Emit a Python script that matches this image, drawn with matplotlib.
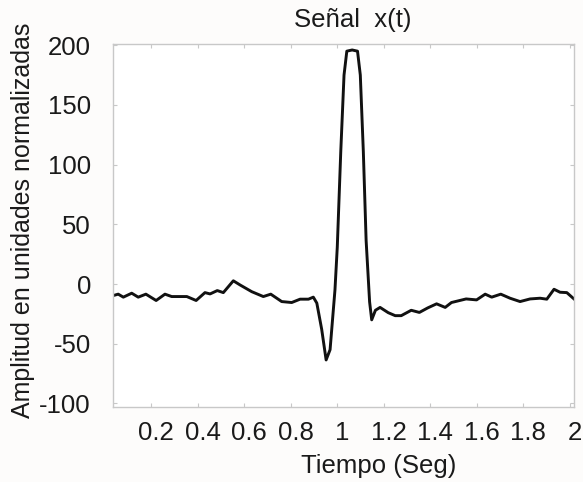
import matplotlib.pyplot as plt
import matplotlib.transforms as mtransforms
import numpy as np

# Señal x(t)
t = [0.037, 0.059, 0.081, 0.117, 0.145, 0.178, 0.222, 0.26, 0.289, 0.354,
     0.394, 0.432, 0.454, 0.485, 0.511, 0.554, 0.583, 0.633, 0.683, 0.715,
     0.762, 0.805, 0.841, 0.877, 0.898, 0.913, 0.934, 0.953, 0.97, 0.991,
     1.001, 1.016, 1.030, 1.042, 1.065, 1.088, 1.100, 1.113, 1.125, 1.140,
     1.149, 1.165, 1.185, 1.22, 1.25, 1.276, 1.319, 1.354, 1.39, 1.428,
     1.465, 1.492, 1.555, 1.6, 1.637, 1.665, 1.704, 1.744, 1.787, 1.83,
     1.873, 1.902, 1.933, 1.959, 1.988, 2.02]
x = [-9.7, -8.5, -11, -7.7, -11, -8.5, -13.8, -8.5, -10.5, -10.5,
     -13.8, -7.2, -8.3, -5.5, -7.2, 2.7, -0.8, -6.4, -10.5, -8.5,
     -14.7, -15.5, -12.7, -12.7, -11, -16, -38, -63.6, -55, -5,
     31, 111, 175, 195, 196, 195, 175, 111, 36.5, -15,
     -30, -22, -19.6, -24, -26.5, -26.5, -22, -23.8, -20, -16.6,
     -19.6, -15.5, -12.5, -13.3, -8.5, -11, -8.5, -11.9, -14.7, -12.5,
     -11.9, -12.7, -4.4, -6.9, -7.2, -12.7]

xticks = [0.2, 0.4, 0.6, 0.8, 1, 1.2, 1.4, 1.6, 1.8, 2]
xticklabels = ['0.2', '0.4', '0.6', '0.8', '1', '1.2', '1.4', '1.6', '1.8', '2']
yticks = [-100, -50, 0, 50, 100, 150, 200]

plt.rcParams['font.family'] = ['Liberation Sans', 'DejaVu Sans']
plt.rcParams['axes.unicode_minus'] = False

fig = plt.figure(figsize=(5.83, 4.82), dpi=100, facecolor='#fdfcfb')
ax = fig.add_axes([0.194, 0.1556, 0.7906, 0.7531])
ax.set_facecolor('white')

ax.plot(t, x, color='#111111', linewidth=2.1, solid_joinstyle='round')

ax.set_xlim(0.037, 2.019)
ax.set_ylim(-103, 201)
ax.set_xticks(xticks)
ax.set_xticklabels(xticklabels)
ax.set_yticks(yticks)

for s in ax.spines.values():
    s.set_color('#c8c8c8')
    s.set_linewidth(1.0)
ax.tick_params(direction='in', length=3, color='#c8c8c8', labelsize=18.5,
               labelcolor='#1a1a1a', top=True, right=True)
ax.tick_params(axis='y', pad=16)
ax.tick_params(axis='x', pad=10)

# etiquetas del eje x un poco corridas a la derecha, como en el original
shift = mtransforms.ScaledTranslation(5 / 100, 0, fig.dpi_scale_trans)
for lab in ax.get_xticklabels():
    lab.set_transform(lab.get_transform() + shift)

ax.set_title('Señal  x(t)', fontsize=18.5, color='#1a1a1a', pad=12, x=0.52)
ax.set_xlabel('Tiempo (Seg)', fontsize=18.5, color='#1a1a1a')
ax.set_ylabel('Amplitud en unidades normalizadas', fontsize=18, color='#1a1a1a')
ax.xaxis.set_label_coords(0.577, -0.13)
ax.yaxis.set_label_coords(-0.17, 0.515)

fig.savefig('out.png', dpi=100, facecolor=fig.get_facecolor())
